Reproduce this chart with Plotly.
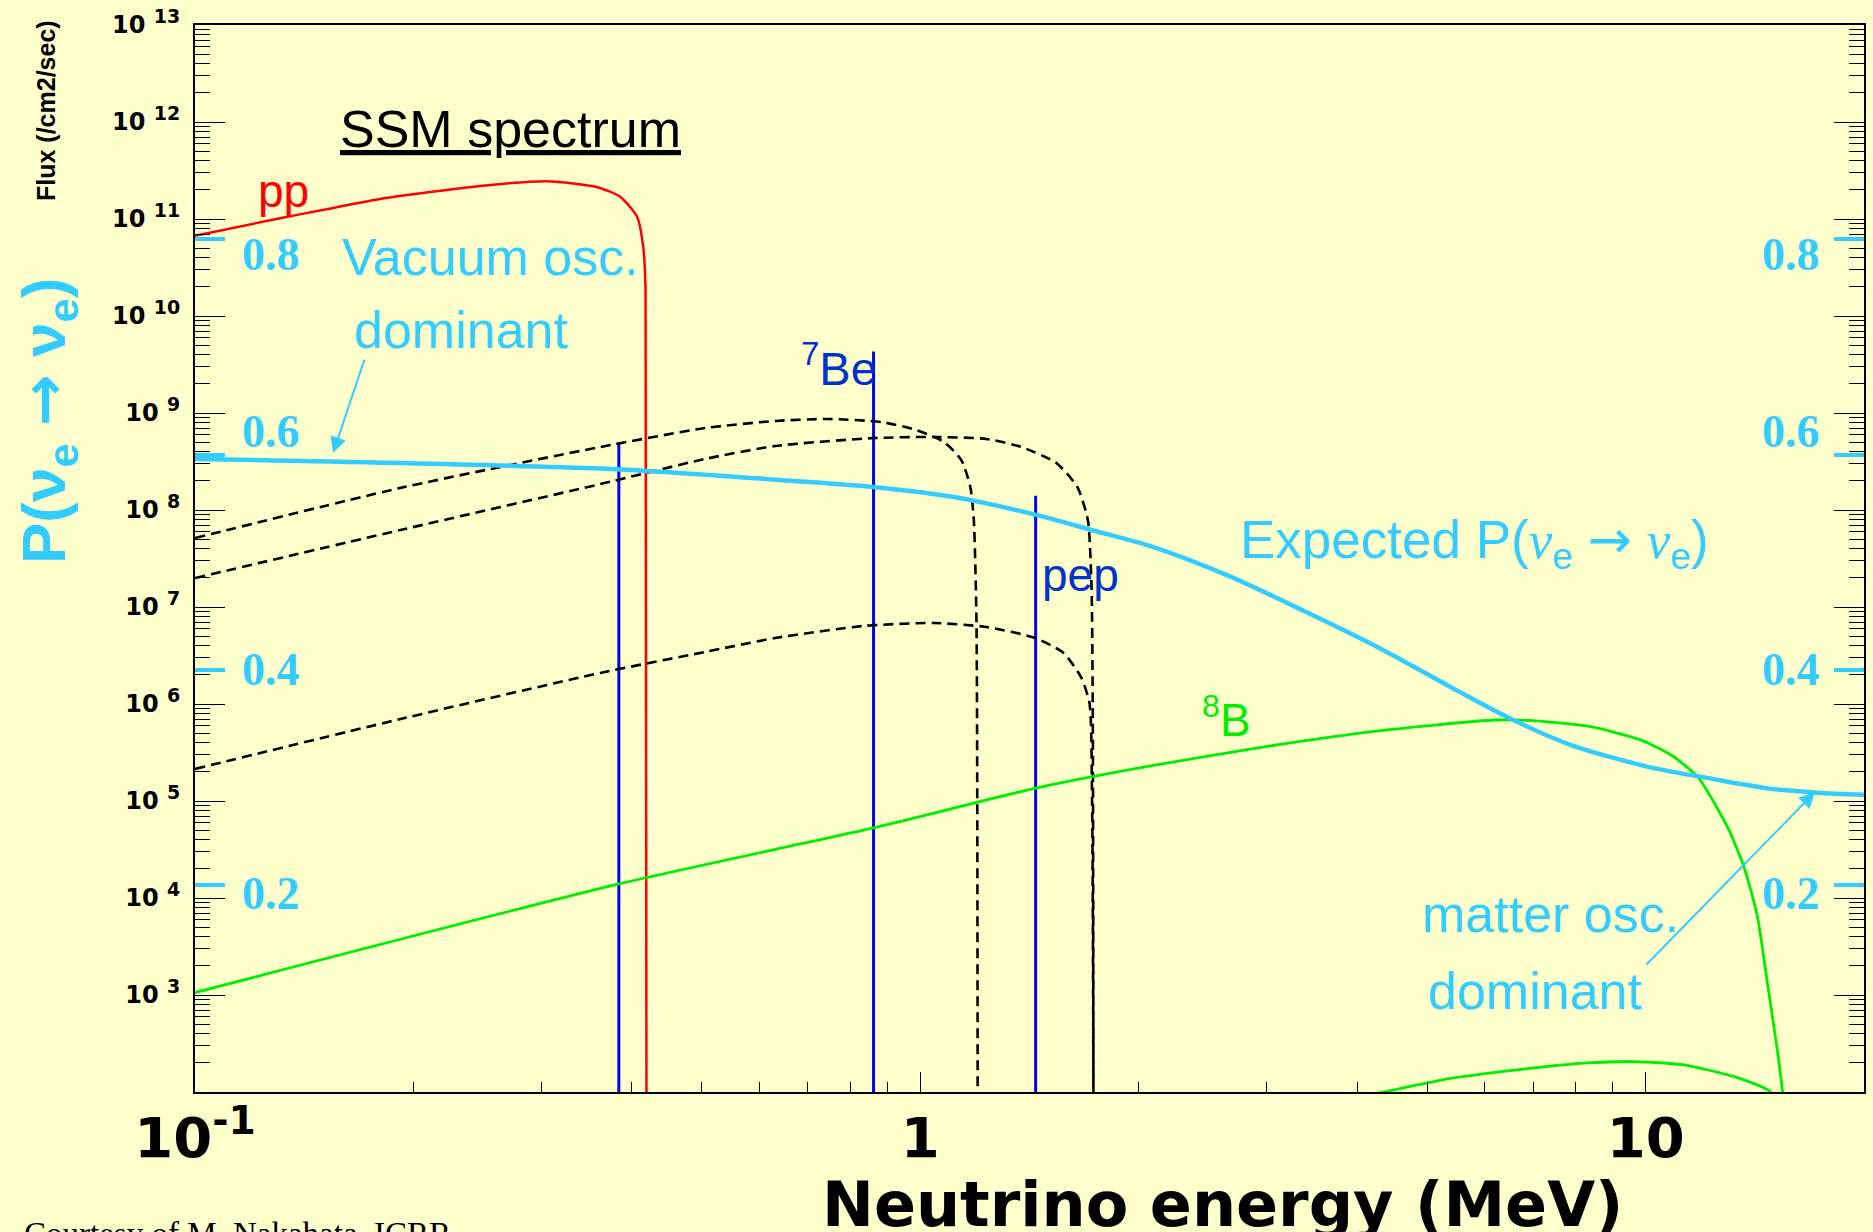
import math
import plotly.graph_objects as go

# ---------------- data ----------------
# pp continuum (MeV, /cm2/s/MeV)
pp_energy = [0.100, 0.131, 0.150, 0.180, 0.247, 0.306, 0.358, 0.386, 0.407, 0.415, 0.418, 0.4195]
pp_flux = [6.7e10, 1.02e11, 1.24e11, 1.61e11, 2.19e11, 2.45e11, 2.14e11, 1.69e11, 1.05e11, 5.1e10, 1.9e10, 1.0]

# 7Be and pep lines
be7_energy = [0.384, 0.862]
be7_flux = [5.0e8, 4.3e9]
pep_energy = [1.442]
pep_flux = [1.4e8]

# CNO continua
n13_energy = [0.100, 0.192, 0.362, 0.505, 0.631, 0.747, 0.884, 0.987, 1.079, 1.139, 1.172, 1.185, 1.195, 1.200]
n13_flux = [5.14e7, 1.69e8, 4.46e8, 7.0e8, 8.28e8, 8.67e8, 8.07e8, 6.68e8, 5.01e8, 3.27e8, 1.73e8, 7.89e7, 7.35e6, 1.0]
o15_energy = [0.100, 0.192, 0.362, 0.505, 0.631, 0.864, 1.042, 1.233, 1.378, 1.540, 1.646, 1.702, 1.722, 1.729, 1.733]
o15_flux = [1.99e7, 6.22e7, 1.85e8, 3.36e8, 4.57e8, 5.52e8, 5.66e8, 5.40e8, 4.46e8, 3.05e8, 1.73e8, 7.89e7, 1.61e7, 6.84e5, 1.0]
f17_energy = [0.100, 0.192, 0.362, 0.505, 0.631, 0.834, 1.042, 1.233, 1.441, 1.575, 1.665, 1.711, 1.725, 1.735]
f17_flux = [2.14e5, 7.0e5, 2.09e6, 3.44e6, 4.79e6, 6.37e6, 6.84e6, 6.22e6, 4.79e6, 3.36e6, 1.90e6, 1.02e6, 1.0e5, 1.0]

# 8B and hep continua
b8_energy = [0.100, 0.383, 0.861, 1.443, 2.076, 2.99, 4.305, 6.2, 7.0, 8.40, 9.84, 10.84, 11.79,
             12.96, 13.66, 14.26, 14.72, 15.19, 15.44, 15.6]
b8_flux = [1.06e3, 1.39e4, 5.27e4, 1.36e5, 2.30e5, 3.63e5, 5.31e5, 6.84e5, 6.73e5, 5.83e5, 4.27e5,
           2.98e5, 1.78e5, 5.43e4, 2.10e4, 6.41e3, 1.32e3, 2.69e2, 1.0e2, 3.2e1]
hep_energy = [4.20, 4.355, 5.38, 6.65, 8.22, 9.64, 11.29, 13.24, 14.87, 15.3]
hep_flux = [94.6, 100, 138, 169, 198, 206, 190, 144, 100, 63]

# expected survival probability P(nu_e -> nu_e)
psurv_energy = [0.100, 0.362, 0.565, 0.861, 1.102, 1.445, 1.722, 2.076, 2.647, 3.375, 4.305, 5.49,
                6.59, 7.91, 10.08, 12.09, 14.72, 17.25, 20.0]
psurv = [0.596, 0.587, 0.579, 0.570, 0.561, 0.544, 0.530, 0.515, 0.488, 0.455, 0.420, 0.381,
         0.353, 0.330, 0.310, 0.300, 0.290, 0.286, 0.284]

# axis ticks
flux_exponents = list(range(3, 14))
energy_ticks = [0.1, 1, 10]
energy_ticktext = ["10<sup>-1</sup>", "1", "10"]
prob_ticks = [0.2, 0.4, 0.6, 0.8]
prob_ticktext = ["0.2", "0.4", "0.6", "0.8"]

# ---------------- style ----------------
W, H = 1873, 1232
L, R, T, B = 195, 1864, 25, 1092
BG = "#FFFFCC"
CYAN = "#33CCFF"
RED = "#FF0000"
BLUE = "#0000FF"
BLUE_TXT = "#0033CC"
GREEN = "#00EE00"
SANS = "Liberation Sans, Arial, sans-serif"
SERIF = "Liberation Serif, Times New Roman, serif"
WIDE = "DejaVu Sans, sans-serif"
NUFLOOR = 1.0  # lines dropping below the frame are clipped there

fig = go.Figure()

def flux_line(x, y, color, width, dash=None, smooth=True):
    line = dict(color=color, width=width, dash=dash)
    if smooth:
        line.update(shape="spline", smoothing=0.6)
    fig.add_trace(go.Scatter(x=x, y=y, mode="lines", yaxis="y", line=line,
                             hoverinfo="skip"))

flux_line(pp_energy, pp_flux, RED, 2.5)
for e, f in zip(be7_energy, be7_flux):
    flux_line([e, e], [NUFLOOR, f], BLUE, 3, smooth=False)
for e, f in zip(pep_energy, pep_flux):
    flux_line([e, e], [NUFLOOR, f], BLUE, 3, smooth=False)
DASH = "10px,6px"
flux_line(n13_energy, n13_flux, "black", 2.6, DASH)
flux_line(o15_energy, o15_flux, "black", 2.6, DASH)
flux_line(f17_energy, f17_flux, "black", 2.6, DASH)
flux_line(b8_energy, b8_flux, GREEN, 2.8)
flux_line(hep_energy, hep_flux, GREEN, 2.8)

fig.add_trace(go.Scatter(x=psurv_energy, y=psurv, mode="lines", yaxis="y2",
                         line=dict(color=CYAN, width=4.5, shape="spline", smoothing=0.8),
                         hoverinfo="skip"))

# minor tick positions
x_minor = [m * 10.0 ** k for k in (-1, 0) for m in range(2, 10)]
y_minor = [m * 10.0 ** k for k in range(2, 13) for m in range(2, 10)]

NBSP = "\u00a0"
fig.update_layout(
    width=W, height=H, autosize=False,
    margin=dict(l=L, r=W - R, t=T, b=H - B, pad=0, autoexpand=False),
    paper_bgcolor=BG, plot_bgcolor=BG, showlegend=False,
    xaxis=dict(
        type="log", range=[-1, math.log10(20)], automargin=False,
        tickmode="array", tickvals=energy_ticks, ticktext=energy_ticktext,
        ticks="inside", ticklen=20, tickwidth=1.3, tickcolor="black",
        showline=True, linecolor="black", linewidth=2, mirror=True,
        showgrid=False, zeroline=False,
        tickfont=dict(family=WIDE, size=56, color="black", weight="bold"),
        ticklabelstandoff=-4,
        minor=dict(tickmode="array", tickvals=x_minor, ticks="inside", ticklen=10,
                   tickwidth=1.3, tickcolor="black", showgrid=False),
    ),
    yaxis=dict(
        type="log", range=[2, 13], automargin=False,
        tickmode="array", tickvals=[10.0 ** k for k in flux_exponents],
        ticktext=[f"<b>10{NBSP}<sup><span style='font-size:19px'>{k}</span></sup></b>"
                  for k in flux_exponents],
        ticks="inside", ticklen=30, tickwidth=1.3, tickcolor="black",
        showline=True, linecolor="black", linewidth=2, mirror="ticks",
        showgrid=False, zeroline=False,
        tickfont=dict(family=WIDE, size=24, color="black", weight="bold"),
        ticklabelstandoff=8,
        minor=dict(tickmode="array", tickvals=y_minor, ticks="inside", ticklen=15,
                   tickwidth=1.3, tickcolor="black", showgrid=False),
    ),
    yaxis2=dict(
        overlaying="y", side="right", anchor="x", range=[0.008, 0.999], automargin=False,
        tickmode="array", tickvals=prob_ticks, ticks="inside", ticklen=30,
        tickwidth=4, tickcolor=CYAN, showticklabels=False,
        showline=True, linecolor="black", linewidth=2, mirror="ticks",
        showgrid=False, zeroline=False,
    ),
)

def px(xp):
    return (xp - L) / (R - L)

def py(yp):
    return (B - yp) / (B - T)

anns = []

def text(t, xp, yp, size, color, family=SANS, xanchor="center", **kw):
    font = dict(family=family, size=size, color=color)
    font.update(kw.pop("font", {}))
    anns.append(dict(text=t, x=px(xp), y=py(yp), xref="paper", yref="paper",
                     showarrow=False, xanchor=xanchor, yanchor="middle", font=font, **kw))

def arrow(tail, tip):
    anns.append(dict(text="", x=px(tip[0]), y=py(tip[1]), xref="paper", yref="paper",
                     ax=tail[0] - tip[0], ay=tail[1] - tip[1], showarrow=True,
                     arrowhead=2, arrowsize=1.6, arrowwidth=2, arrowcolor=CYAN, standoff=0))

NU = '<span style="font-family:Liberation Serif"><i>ν</i></span>'
ARROW = '<span style="font-family:DejaVu Sans">→</span>'

text("SSM spectrum", 510, 129, 52, "black", font=dict(lineposition="under"))
text("pp", 283, 191, 46, RED)
text("Vacuum osc.", 490, 257, 52, CYAN)
text("dominant", 461, 330, 52, CYAN)
arrow((365, 358), (333, 453))
text("<sup>7</sup>Be", 839, 365, 47, BLUE_TXT)
text("pep", 1080, 575, 46, BLUE_TXT)
text("<sup>8</sup>B", 1226, 717, 46, GREEN)
text(f"Expected P({NU}<sub>e</sub> {ARROW} {NU}<sub>e</sub>)", 1474, 543, 53, CYAN)
text("matter osc.", 1550, 914, 52, CYAN)
text("dominant", 1535, 991, 52, CYAN)
arrow((1645, 966), (1815, 792))

# axis titles
text("<b>Flux (/cm2/sec)</b>", 46, 111, 25, "black", textangle=-90)
text(f"<b>P(ν<sub>e</sub> {ARROW} ν<sub>e</sub>)</b>", 47, 421, 62, CYAN, textangle=-90)
text("<b>Neutrino energy (MeV)</b>", 1222, 1204, 62, "black", family=WIDE)
text("Courtesy of M. Nakahata, ICRR", 22, 1234, 33, "black", family=SERIF, xanchor="left")

# survival-probability scale labels on both sides
prob_label_shift = {0.8: -15, 0.6: 23, 0.4: 0, 0.2: -8}
for v, lab in zip(prob_ticks, prob_ticktext):
    for xp in (271, 1791):
        anns.append(dict(text=f"<b>{lab}</b>", x=px(xp), y=v, xref="paper", yref="y2",
                         yshift=prob_label_shift[v], showarrow=False,
                         xanchor="center", yanchor="middle",
                         font=dict(family=SERIF, size=46, color=CYAN)))

fig.update_layout(annotations=anns)
fig.write_html("out.html")
